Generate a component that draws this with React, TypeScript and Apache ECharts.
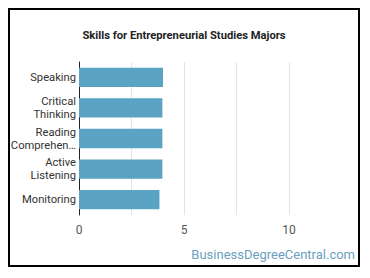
import React, { useEffect, useRef } from "react";
import * as echarts from "echarts";

const categories = ["Speaking", "Critical Thinking", "Reading Comprehension", "Active Listening", "Monitoring"];
const values = [4.0, 3.97, 3.97, 3.97, 3.83];
const xTickLabels = ["0", "5", "10"];

export default function App() {
  const ref = useRef<HTMLDivElement>(null);
  useEffect(() => {
    if (!ref.current) return;
    const chart = echarts.init(ref.current, null, { renderer: "svg" });
    chart.setOption({
      animation: false,
      title: {
        text: "Skills for Entrepreneurial Studies Majors",
        left: "center",
        top: 15,
        textStyle: { fontFamily: "Roboto", fontSize: 11.2, fontWeight: "bold", color: "#222" },
      },
      grid: { left: 69, right: 69, top: 52, bottom: 50, containLabel: false, outerBoundsMode: "none" },
      xAxis: {
        type: "value",
        min: 0,
        max: 10,
        interval: 2.5,
        axisLine: { show: false },
        axisTick: { show: false },
        splitLine: { show: true, lineStyle: { color: "#e3e3e3", width: 1 } },
        axisLabel: {
          fontFamily: "Roboto",
          fontSize: 12,
          color: "#555",
          margin: 9,
          formatter: (v: number) => (xTickLabels.includes(String(v)) ? String(v) : ""),
        },
      },
      yAxis: {
        type: "category",
        inverse: true,
        data: categories,
        axisLine: { show: true, lineStyle: { color: "#222", width: 1 } },
        axisTick: { show: false },
        axisLabel: {
          fontFamily: "Roboto",
          fontSize: 11.2,
          color: "#333",
          margin: 3,
          lineHeight: 13,
          width: 68,
          overflow: "truncate",
          ellipsis: "…",
          formatter: (s: string) => s.replace(" ", "\n"),
        },
      },
      series: [
        {
          type: "bar",
          data: values,
          barWidth: "63%",
          itemStyle: { color: "#5aa3c3" },
        },
      ],
      graphic: [
        {
          type: "text",
          right: 3,
          top: 238,
          style: {
            text: "BusinessDegreeCentral.com",
            fontFamily: "Roboto",
            fontSize: 13,
            fill: "#6a9fc0",
          },
        },
      ],
    });
    return () => chart.dispose();
  }, []);
  return (
    <div
      style={{
        width: 348,
        height: 255,
        border: "2px solid #000",
      }}
    >
      <div ref={ref} style={{ width: 348, height: 255 }} />
    </div>
  );
}
